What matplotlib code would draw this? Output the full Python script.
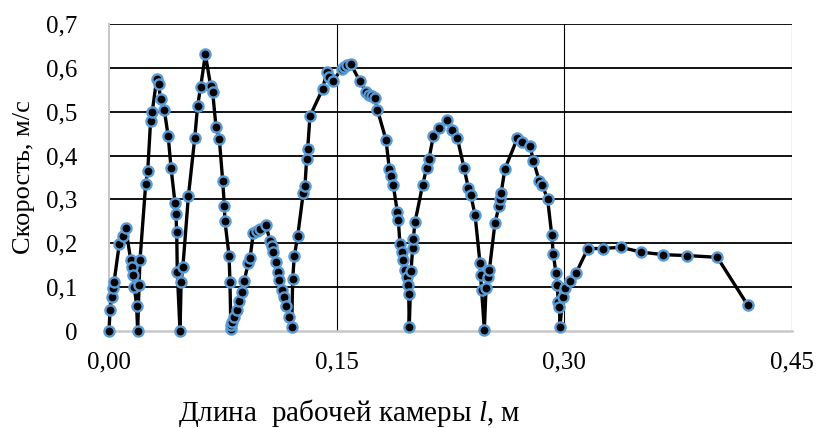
import matplotlib.pyplot as plt
import numpy as np
from matplotlib.ticker import FuncFormatter

plt.rcParams['font.family'] = ['Liberation Serif', 'DejaVu Serif']
plt.rcParams['mathtext.fontset'] = 'custom'
plt.rcParams['mathtext.rm'] = 'Liberation Serif'
plt.rcParams['mathtext.it'] = 'Liberation Serif:italic'

# длина камеры l, м
l = [0.0000, 0.0007, 0.0018, 0.0024, 0.0033, 0.0068, 0.0090, 0.0110, 0.0143, 0.0154,
     0.0160, 0.0167, 0.0182, 0.0189, 0.0198, 0.0204, 0.0242, 0.0255, 0.0274, 0.0285,
     0.0314, 0.0327, 0.0340, 0.0364, 0.0390, 0.0409, 0.0435, 0.0441, 0.0446, 0.0450,
     0.0468, 0.0475, 0.0487, 0.0523, 0.0565, 0.0584, 0.0604, 0.0635, 0.0670, 0.0683,
     0.0705, 0.0727, 0.0749, 0.0760, 0.0764, 0.0791, 0.0797, 0.0803, 0.0807, 0.0813,
     0.0825, 0.0845, 0.0858, 0.0878, 0.0891, 0.0918, 0.0929, 0.0951, 0.0973, 0.0995,
     0.1034, 0.1061, 0.1072, 0.1083, 0.1100, 0.1116, 0.1122, 0.1138, 0.1153, 0.1166,
     0.1186, 0.1204, 0.1210, 0.1221, 0.1243, 0.1280, 0.1291, 0.1302, 0.1309, 0.1324,
     0.1408, 0.1434, 0.1451, 0.1474, 0.1533, 0.1548, 0.1566, 0.1592, 0.1654, 0.1693,
     0.1713, 0.1731, 0.1753, 0.1768, 0.1825, 0.1847, 0.1856, 0.1873, 0.1900, 0.1906,
     0.1917, 0.1928, 0.1939, 0.1950, 0.1962, 0.1968, 0.1975, 0.1978, 0.1990, 0.2001,
     0.2005, 0.2016, 0.2067, 0.2093, 0.2108, 0.2137, 0.2176, 0.2225, 0.2262, 0.2295,
     0.2339, 0.2367, 0.2383, 0.2412, 0.2444, 0.2448, 0.2455, 0.2473, 0.2484, 0.2499,
     0.2506, 0.2543, 0.2570, 0.2576, 0.2583, 0.2609, 0.2690, 0.2719, 0.2774, 0.2796,
     0.2835, 0.2855, 0.2890, 0.2917, 0.2927, 0.2945, 0.2953, 0.2960, 0.2968, 0.2971,
     0.2989, 0.3004, 0.3037, 0.3077, 0.3155, 0.3252, 0.3371, 0.3505, 0.3652, 0.3810,
     0.4008, 0.4208]
# скорость, м/с
v = [0.000, 0.049, 0.077, 0.097, 0.111, 0.199, 0.216, 0.235, 0.162, 0.147,
     0.128, 0.101, 0.057, 0.000, 0.105, 0.161, 0.336, 0.364, 0.479, 0.500,
     0.574, 0.563, 0.529, 0.505, 0.444, 0.371, 0.292, 0.267, 0.226, 0.134,
     0.000, 0.111, 0.147, 0.307, 0.440, 0.514, 0.557, 0.631, 0.558, 0.545,
     0.465, 0.437, 0.343, 0.286, 0.250, 0.172, 0.111, 0.005, 0.013, 0.020,
     0.032, 0.049, 0.069, 0.089, 0.115, 0.155, 0.166, 0.223, 0.227, 0.233,
     0.242, 0.205, 0.193, 0.181, 0.158, 0.135, 0.116, 0.093, 0.078, 0.057,
     0.032, 0.008, 0.118, 0.171, 0.216, 0.315, 0.330, 0.392, 0.415, 0.490,
     0.552, 0.590, 0.579, 0.569, 0.598, 0.602, 0.607, 0.609, 0.569, 0.545,
     0.538, 0.535, 0.531, 0.505, 0.436, 0.369, 0.353, 0.332, 0.271, 0.254,
     0.199, 0.180, 0.162, 0.139, 0.124, 0.105, 0.084, 0.008, 0.137, 0.189,
     0.210, 0.248, 0.334, 0.372, 0.392, 0.445, 0.462, 0.482, 0.459, 0.440,
     0.372, 0.327, 0.311, 0.264, 0.156, 0.128, 0.093, 0.003, 0.097, 0.122,
     0.139, 0.246, 0.285, 0.300, 0.314, 0.370, 0.439, 0.430, 0.422, 0.388,
     0.342, 0.333, 0.300, 0.219, 0.176, 0.132, 0.105, 0.067, 0.055, 0.008,
     0.078, 0.097, 0.113, 0.132, 0.188, 0.188, 0.191, 0.180, 0.174, 0.172,
     0.168, 0.059]

x_ticks = [0.0, 0.15, 0.30, 0.45]
y_ticks = [0.0, 0.1, 0.2, 0.3, 0.4, 0.5, 0.6, 0.7]

fig = plt.figure(figsize=(8.2, 4.28), dpi=100)
ax = fig.add_axes([109 / 820, 1 - 331 / 428, 683 / 820, 307 / 428])

ax.plot(l, v, color='black', lw=2.4, marker='o', ms=7.3,
        mfc='black', mec='#5B9BD5', mew=1.7, zorder=3, clip_on=False)

ax.set_xlim(0, 0.45)
ax.set_ylim(0, 0.7)
ax.set_xticks(x_ticks)
ax.set_yticks(y_ticks)
ax.xaxis.set_major_formatter(FuncFormatter(lambda t, p: f'{t:.2f}'.replace('.', ',')))
ax.yaxis.set_major_formatter(FuncFormatter(lambda t, p: '0' if t == 0 else f'{t:.1f}'.replace('.', ',')))
ax.tick_params(length=0, labelsize=18)
ax.tick_params(axis='y', pad=23)
ax.tick_params(axis='x', pad=15)

for yy in y_ticks[1:]:
    ax.axhline(yy, color='black', lw=1.3, zorder=1)
for xx in x_ticks[1:]:
    ax.axvline(xx, color='black', lw=0.8, zorder=1)

for s in ['top', 'right']:
    ax.spines[s].set_visible(False)
ax.spines['left'].set_color('#c8c8c8')
ax.spines['left'].set_linewidth(1.5)
ax.spines['bottom'].set_color('#c8c8c8')
ax.spines['bottom'].set_linewidth(1.8)

ax.set_ylabel('Скорость, м/с', fontsize=19, labelpad=8)
fig.text(349 / 820, 1 - 413 / 428, 'Длина  рабочей камеры $l$, м', fontsize=21,
         ha='center', va='center')

fig.savefig('out.png', dpi=100)
